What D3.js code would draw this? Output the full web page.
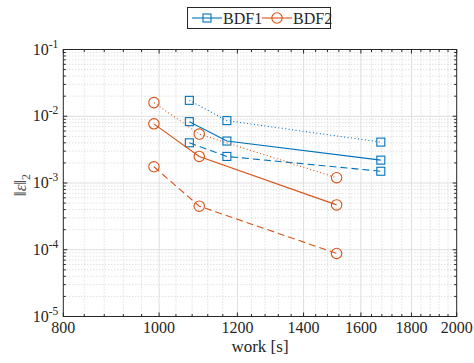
<!DOCTYPE html>
<html><head><meta charset="utf-8">
<script src="https://cdn.jsdelivr.net/npm/d3@7"></script>
<style>body{margin:0;background:#fff;}</style>
</head><body><svg id="c" width="474" height="363" font-family="'Liberation Serif', 'Times New Roman', 'DejaVu Serif', serif"></svg>
<script>
// ---- data ----
const workBDF1 = [1073, 1171, 1676];
const workBDF2 = [988, 1098, 1512];
const bdf1Dotted = [1.73e-2, 8.6e-3, 4.1e-3];
const bdf1Solid  = [8.3e-3, 4.25e-3, 2.2e-3];
const bdf1Dashed = [4.0e-3, 2.5e-3, 1.5e-3];
const bdf2Dotted = [1.6e-2, 5.4e-3, 1.2e-3];
const bdf2Solid  = [7.7e-3, 2.5e-3, 4.7e-4];
const bdf2Dashed = [1.75e-3, 4.5e-4, 8.8e-5];
const xTicks = [800, 1000, 1200, 1400, 1600, 1800, 2000];
const yExponents = [-1, -2, -3, -4, -5];
const legendNames = ["BDF1", "BDF2"];

const blue = "#0072BD", orange = "#D95319", axc = "#262626";
const svg = d3.select("#c");
const L = 63.3, R = 456.7, T = 49.5, B = 316.5;
const x = d3.scaleLog().domain([800, 2000]).range([L, R]);
const y = d3.scaleLog().domain([1e-5, 1e-1]).range([B, T]);

// minor grid
const xMinor = d3.range(840, 2000, 40).filter(v => v % 200 !== 0);
const yMinor = [];
for (let e = -5; e < -1; e++) for (let m = 2; m <= 9; m++) yMinor.push(m * Math.pow(10, e));
const g = svg.append("g");
g.selectAll(".xm").data(xMinor).join("line").attr("x1", d => x(d)).attr("x2", d => x(d))
  .attr("y1", T).attr("y2", B).attr("stroke", "#c8c8c8").attr("stroke-dasharray", "1,2").attr("stroke-width", 0.8);
g.selectAll(".ym").data(yMinor).join("line").attr("y1", d => y(d)).attr("y2", d => y(d))
  .attr("x1", L).attr("x2", R).attr("stroke", "#c8c8c8").attr("stroke-dasharray", "1,2").attr("stroke-width", 0.8);
// major grid
g.selectAll(".xM").data(xTicks.slice(1, -1)).join("line").attr("x1", d => x(d)).attr("x2", d => x(d))
  .attr("y1", T).attr("y2", B).attr("stroke", "#dedede").attr("stroke-width", 1);
g.selectAll(".yM").data(yExponents.slice(1, -1)).join("line").attr("y1", d => y(Math.pow(10, d))).attr("y2", d => y(Math.pow(10, d)))
  .attr("x1", L).attr("x2", R).attr("stroke", "#dedede").attr("stroke-width", 1);

// axes with inward ticks on all sides
const tl = 4, tlm = 2.5;
const tk = svg.append("g").attr("stroke", axc).attr("stroke-width", 1);
xTicks.concat(xMinor).forEach(v => {
  const len = xTicks.includes(v) ? tl : tlm;
  tk.append("line").attr("x1", x(v)).attr("x2", x(v)).attr("y1", B).attr("y2", B - len);
  tk.append("line").attr("x1", x(v)).attr("x2", x(v)).attr("y1", T).attr("y2", T + len);
});
yExponents.map(e => Math.pow(10, e)).concat(yMinor).forEach(v => {
  const len = yMinor.includes(v) ? tlm : tl;
  tk.append("line").attr("y1", y(v)).attr("y2", y(v)).attr("x1", L).attr("x2", L + len);
  tk.append("line").attr("y1", y(v)).attr("y2", y(v)).attr("x1", R).attr("x2", R - len);
});
svg.append("rect").attr("x", L).attr("y", T).attr("width", R - L).attr("height", B - T)
  .attr("fill", "none").attr("stroke", axc).attr("stroke-width", 1);

// tick labels
svg.selectAll(".xl").data(xTicks).join("text").attr("x", d => x(d)).attr("y", B + 16)
  .attr("text-anchor", "middle").attr("font-size", 16).attr("fill", axc).text(d => d);
yExponents.forEach(e => {
  const t = svg.append("text").attr("x", L - 5).attr("y", y(Math.pow(10, e)) + 5)
    .attr("text-anchor", "end").attr("font-size", 16).attr("fill", axc);
  t.append("tspan").text("10");
  t.append("tspan").attr("font-size", 11.5).attr("dy", -7).text("-" + (-e));
});
// axis labels
svg.append("text").attr("x", (L + R) / 2).attr("y", 352).attr("text-anchor", "middle")
  .attr("font-size", 17).attr("fill", axc).text("work [s]");
const yl = svg.append("text").attr("transform", `translate(26,${(T + B) / 2 + 2}) rotate(-90)`)
  .attr("text-anchor", "middle").attr("font-size", 17).attr("fill", "#555");
yl.append("tspan").text("‖");
yl.append("tspan").attr("font-style", "italic").text("ε");
yl.append("tspan").text("‖");
yl.append("tspan").attr("font-size", 12).attr("dy", 4).text("2");

// series
const series = [
  {xs: workBDF1, ys: bdf1Dotted, c: blue, dash: "1,2.5", m: "sq"},
  {xs: workBDF1, ys: bdf1Solid, c: blue, dash: null, m: "sq"},
  {xs: workBDF1, ys: bdf1Dashed, c: blue, dash: "7,4", m: "sq"},
  {xs: workBDF2, ys: bdf2Dotted, c: orange, dash: "1,2.5", m: "ci"},
  {xs: workBDF2, ys: bdf2Solid, c: orange, dash: null, m: "ci"},
  {xs: workBDF2, ys: bdf2Dashed, c: orange, dash: "7,4", m: "ci"},
];
const line = d3.line().x(d => x(d[0])).y(d => y(d[1]));
function marker(sel, type, c, cx, cy) {
  if (type === "sq") sel.append("rect").attr("x", cx - 4).attr("y", cy - 4).attr("width", 8).attr("height", 8)
    .attr("fill", "none").attr("stroke", c).attr("stroke-width", 1.1);
  else sel.append("circle").attr("cx", cx).attr("cy", cy).attr("r", 5.2)
    .attr("fill", "none").attr("stroke", c).attr("stroke-width", 1.1);
}
series.forEach(s => {
  const pts = s.xs.map((v, i) => [v, s.ys[i]]);
  svg.append("path").attr("d", line(pts)).attr("fill", "none").attr("stroke", s.c)
    .attr("stroke-width", 1.1).attr("stroke-dasharray", s.dash);
  const mg = svg.append("g");
  pts.forEach(p => marker(mg, s.m, s.c, x(p[0]), y(p[1])));
});

// legend
const lg = svg.append("g");
lg.append("rect").attr("x", 187.5).attr("y", 7.5).attr("width", 143).attr("height", 21)
  .attr("fill", "#fff").attr("stroke", axc).attr("stroke-width", 1);
[[blue, "sq", 192], [orange, "ci", 262]].forEach((d, i) => {
  lg.append("line").attr("x1", d[2]).attr("x2", d[2] + 30).attr("y1", 18).attr("y2", 18)
    .attr("stroke", d[0]).attr("stroke-width", 1.1);
  marker(lg, d[1], d[0], d[2] + 15, 18);
  lg.append("text").attr("x", d[2] + 31).attr("y", 23.5).attr("font-size", 16).attr("fill", axc).text(legendNames[i]);
});
</script></body></html>
